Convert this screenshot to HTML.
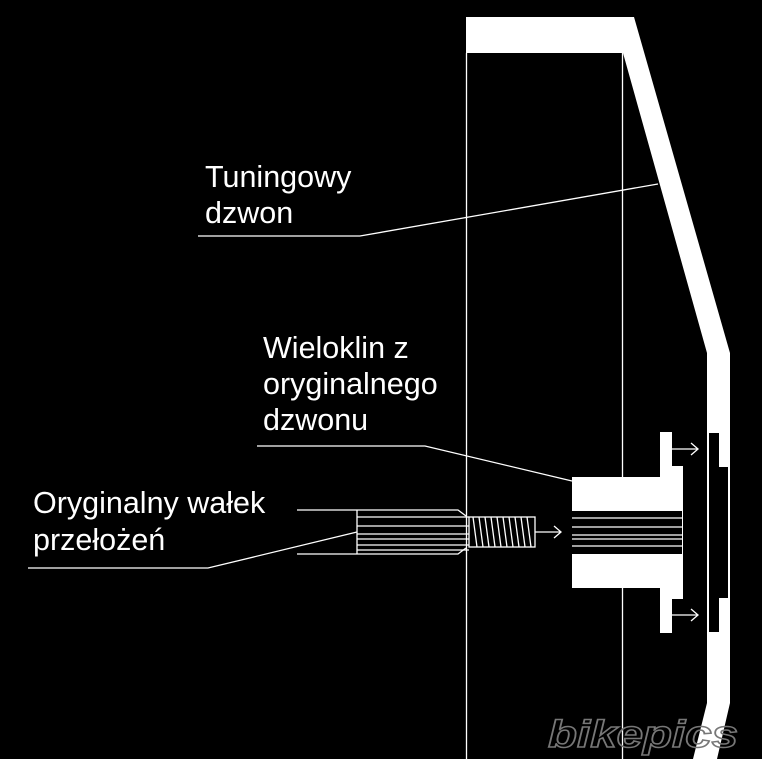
<!DOCTYPE html>
<html><head><style>
html,body{margin:0;padding:0;background:#000;width:762px;height:759px;overflow:hidden}
svg{display:block}
text{font-family:"Liberation Sans",Arial,sans-serif;fill:#fff;font-size:30.5px}
</style></head><body>
<svg width="762" height="759" viewBox="0 0 762 759" xmlns="http://www.w3.org/2000/svg">
<rect width="762" height="759" fill="#000"/>
<!-- bell -->
<polygon points="466,17 634,17 730,353 730,703 717,759 693,759 707,703 707,353 623,53 466,53" fill="#fff"/>
<g stroke="#fff" stroke-width="1.3" fill="none">
<line x1="466.5" y1="53" x2="466.5" y2="759"/>
<line x1="622.5" y1="53" x2="622.5" y2="759"/>
<!-- leaders -->
<polyline points="198,236 360,236 658,184"/>
<polyline points="257,446 425,446 572,481"/>
<polyline points="297,510 458,510 466,516"/>
<polyline points="297,554 458,554 466,548"/>
<polyline points="28,568 208,568 357,532"/>
<line x1="357" y1="510" x2="357" y2="554"/>
<line x1="357" y1="517" x2="469" y2="517"/>
<line x1="357" y1="526" x2="469" y2="526"/>
<line x1="357" y1="534" x2="469" y2="534"/>
<line x1="357" y1="539" x2="469" y2="539"/>
<line x1="357" y1="545" x2="469" y2="545"/>
<line x1="357" y1="550" x2="469" y2="550"/>
<rect x="469" y="517" width="66" height="30"/>
<path d="M473,517 l4,30 M479,517 l4,30 M485,517 l4,30 M491,517 l4,30 M497,517 l4,30 M503,517 l4,30 M509,517 l4,30 M515,517 l4,30 M521,517 l4,30 M527,517 l4,30"/>
<line x1="535" y1="532" x2="561" y2="532"/>
<polyline points="554,526 561,532 554,538"/>
<line x1="672" y1="449" x2="698" y2="449"/>
<polyline points="691,443 698,449 691,455"/>
<line x1="672" y1="615" x2="698" y2="615"/>
<polyline points="691,609 698,615 691,621"/>
</g>
<!-- hub -->
<rect x="572" y="477" width="111" height="111" fill="#fff"/>
<rect x="660" y="432" width="12" height="201" fill="#fff"/>
<rect x="660" y="466" width="23" height="133" fill="#fff"/>
<rect x="572" y="511" width="110" height="43" fill="#000"/>
<g stroke="#fff" stroke-width="1.3">
<line x1="572" y1="518" x2="682" y2="518"/>
<line x1="572" y1="527" x2="682" y2="527"/>
<line x1="572" y1="535" x2="682" y2="535"/>
<line x1="572" y1="539" x2="682" y2="539"/>
<line x1="572" y1="546" x2="682" y2="546"/>
</g>
<!-- plate -->
<rect x="709" y="433" width="10" height="199" fill="#000"/>
<rect x="719" y="467" width="9" height="131" fill="#000"/>
<!-- labels -->
<text x="205" y="187">Tuningowy</text>
<text x="205" y="223">dzwon</text>
<text x="263" y="358">Wieloklin z</text>
<text x="263" y="394">oryginalnego</text>
<text x="263" y="430">dzwonu</text>
<text x="33" y="513">Oryginalny wałek</text>
<text x="33" y="550">przełożeń</text>
<!-- watermark -->
<text x="548" y="747" textLength="190" lengthAdjust="spacingAndGlyphs" style="font-size:38px;font-style:italic;font-weight:bold;fill:none;stroke:#777;stroke-width:1.5">bikepics</text>
</svg>
</body></html>
